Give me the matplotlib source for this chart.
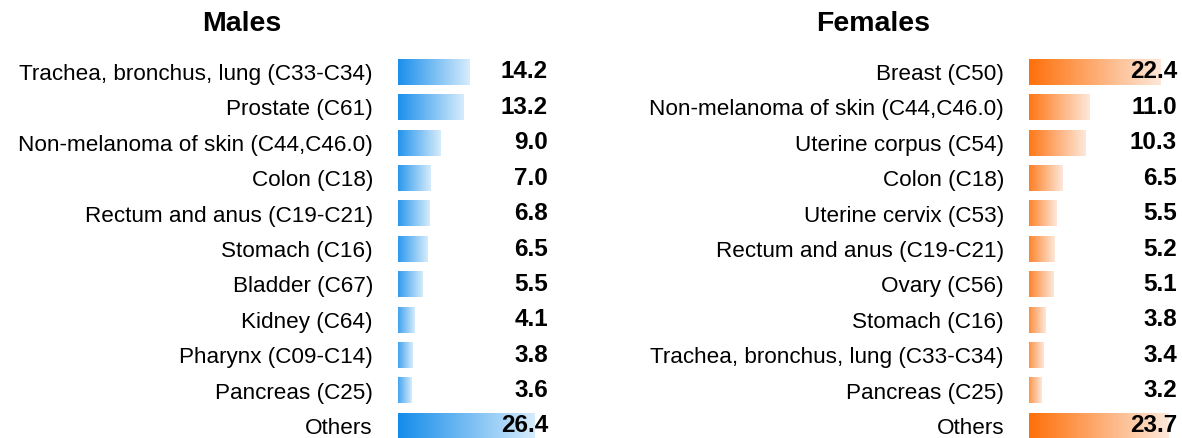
import numpy as np
import matplotlib
matplotlib.use("Agg")
import matplotlib.pyplot as plt
from matplotlib.colors import LinearSegmentedColormap

plt.rcParams['font.family'] = ['Liberation Sans', 'DejaVu Sans']

# data
male_sites = ["Trachea, bronchus, lung (C33-C34)", "Prostate (C61)",
              "Non-melanoma of skin (C44,C46.0)", "Colon (C18)",
              "Rectum and anus (C19-C21)", "Stomach (C16)", "Bladder (C67)",
              "Kidney (C64)", "Pharynx (C09-C14)", "Pancreas (C25)", "Others"]
male_vals = [14.2, 13.2, 9.0, 7.0, 6.8, 6.5, 5.5, 4.1, 3.8, 3.6, 26.4]

female_sites = ["Breast (C50)", "Non-melanoma of skin (C44,C46.0)",
                "Uterine corpus (C54)", "Colon (C18)", "Uterine cervix (C53)",
                "Rectum and anus (C19-C21)", "Ovary (C56)", "Stomach (C16)",
                "Trachea, bronchus, lung (C33-C34)", "Pancreas (C25)", "Others"]
female_vals = [22.4, 11.0, 10.3, 6.5, 5.5, 5.2, 5.1, 3.8, 3.4, 3.2, 23.7]

W, H = 1182, 438
fig = plt.figure(figsize=(W / 100, H / 100), dpi=100)

blue = LinearSegmentedColormap.from_list("b", ["#0c88ea", "#d6ecfc"])
orange = LinearSegmentedColormap.from_list("o", ["#ff6a00", "#fde8da"])
grad = np.linspace(0, 1, 256).reshape(1, -1)

top_px, bot_px = 55, 438
row0, step = 72, 35.4
ylo = (bot_px - row0) / step
yhi = (top_px - row0) / step


def panel(left_px, right_px, x0, scale, sites, vals, cmap, label_px, title, title_px):
    ax = fig.add_axes([left_px / W, 1 - bot_px / H, (right_px - left_px) / W, (bot_px - top_px) / H])
    for i, v in enumerate(vals):
        ax.imshow(grad, cmap=cmap, extent=[0, v, i + 0.36, i - 0.36],
                  aspect='auto', interpolation='bilinear')
        ax.text(x0 + (label_px - left_px) / scale, i, f"{v:.1f}", ha='right', va='center',
                fontsize=17.5, fontweight='bold', clip_on=False)
    ax.set_xlim(x0, x0 + (right_px - left_px) / scale)
    ax.set_ylim(ylo, yhi)
    ax.set_yticks(range(len(sites)))
    ax.set_yticklabels(sites, fontsize=16.2)
    ax.tick_params(axis='y', length=0, pad=18)
    ax.set_xticks([])
    for s in ax.spines.values():
        s.set_visible(False)
    fig.text(title_px / W, 1 - 24 / H, title, ha='center', va='center',
             fontsize=20.5, fontweight='bold')
    return ax


panel(398, 560, 1.05, 5.4, male_sites, male_vals, blue, 548, "Males", 242)
panel(1029, 1182, 1.09, 6.15, female_sites, female_vals, orange, 1177, "Females", 873)

fig.savefig("out.png", dpi=100)
